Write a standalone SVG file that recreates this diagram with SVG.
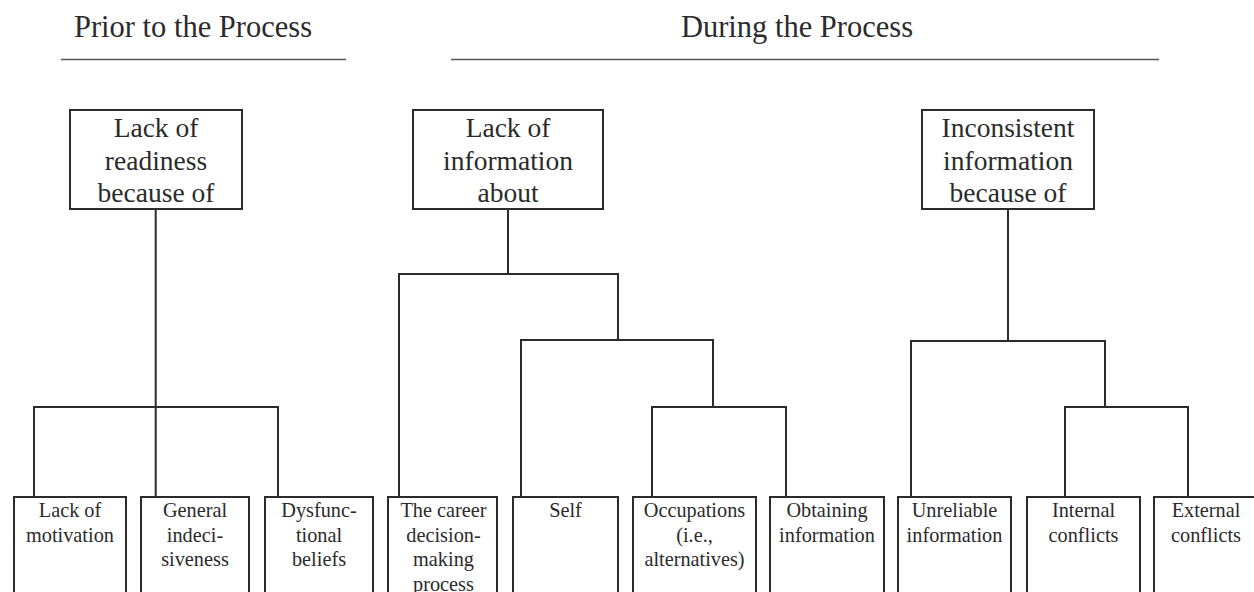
<svg xmlns="http://www.w3.org/2000/svg" width="1254" height="592" viewBox="0 0 1254 592">
  <style>
    .bg { fill: #ffffff; }
    .title { font-family: "Liberation Serif", "Times New Roman", serif; font-size: 30.5px; fill: #2b2b2b; text-anchor: middle; }
    .rule { stroke: #555555; stroke-width: 1.6; }
    .box { fill: #ffffff; stroke: #2b2b2b; stroke-width: 2; }
    .big { font-family: "Liberation Serif", "Times New Roman", serif; font-size: 27.5px; fill: #2b2b2b; text-anchor: middle; }
    .small { font-family: "Liberation Serif", "Times New Roman", serif; font-size: 20.3px; fill: #2b2b2b; text-anchor: middle; }
    .link { fill: none; stroke: #2b2b2b; stroke-width: 2; stroke-linejoin: miter; stroke-linecap: square; }
  </style>

  <rect class="bg" x="0" y="0" width="1254" height="592"/>

  <!-- Section headings -->
  <g id="heading-prior">
    <text class="title" x="193" y="37">Prior to the Process</text>
    <line class="rule" x1="61" y1="59.5" x2="346" y2="59.5"/>
  </g>
  <g id="heading-during">
    <text class="title" x="797" y="37">During the Process</text>
    <line class="rule" x1="451" y1="59.5" x2="1159" y2="59.5"/>
  </g>

  <!-- Connectors -->
  <g id="connectors">
    <!-- readiness tree -->
    <path class="link" d="M155.7 209 V497 M34 497 V407 H278 V497"/>
    <!-- lack of information tree -->
    <path class="link" d="M508 209 V274 M399 497 V274 H618 V340 M521 497 V340 H713 V407 M652 497 V407 H786 V497"/>
    <!-- inconsistent information tree -->
    <path class="link" d="M1008 209 V341 M911 497 V341 H1105 V407 M1065 497 V407 H1188 V497"/>
  </g>

  <!-- Top-level categories -->
  <g id="readiness">
    <rect class="box" x="70" y="110" width="172" height="99"/>
    <text class="big" x="156" y="137">Lack of</text>
    <text class="big" x="156" y="169.5">readiness</text>
    <text class="big" x="156" y="202">because of</text>
  </g>
  <g id="information">
    <rect class="box" x="413" y="110" width="190" height="99"/>
    <text class="big" x="508" y="137">Lack of</text>
    <text class="big" x="508" y="169.5">information</text>
    <text class="big" x="508" y="202">about</text>
  </g>
  <g id="inconsistent">
    <rect class="box" x="922" y="110" width="172" height="99"/>
    <text class="big" x="1008" y="137">Inconsistent</text>
    <text class="big" x="1008" y="169.5">information</text>
    <text class="big" x="1008" y="202">because of</text>
  </g>

  <!-- Sub-categories -->
  <g id="motivation">
    <rect class="box" x="14" y="497" width="112" height="110"/>
    <text class="small" x="70" y="517">Lack of</text>
    <text class="small" x="70" y="541.5">motivation</text>
  </g>
  <g id="indecisiveness">
    <rect class="box" x="141" y="497" width="108" height="110"/>
    <text class="small" x="195" y="517">General</text>
    <text class="small" x="195" y="541.5">indeci-</text>
    <text class="small" x="195" y="566">siveness</text>
  </g>
  <g id="beliefs">
    <rect class="box" x="265" y="497" width="108" height="110"/>
    <text class="small" x="319" y="517">Dysfunc-</text>
    <text class="small" x="319" y="541.5">tional</text>
    <text class="small" x="319" y="566">beliefs</text>
  </g>
  <g id="process">
    <rect class="box" x="388" y="497" width="109" height="110"/>
    <text class="small" x="443.5" y="517">The career</text>
    <text class="small" x="443.5" y="541.5">decision-</text>
    <text class="small" x="443.5" y="566">making</text>
    <text class="small" x="443.5" y="590.5">process</text>
  </g>
  <g id="self">
    <rect class="box" x="513" y="497" width="105" height="110"/>
    <text class="small" x="565.5" y="517">Self</text>
  </g>
  <g id="occupations">
    <rect class="box" x="633" y="497" width="123" height="110"/>
    <text class="small" x="694.5" y="517">Occupations</text>
    <text class="small" x="694.5" y="541.5">(i.e.,</text>
    <text class="small" x="694.5" y="566">alternatives)</text>
  </g>
  <g id="obtaining">
    <rect class="box" x="770" y="497" width="114" height="110"/>
    <text class="small" x="827" y="517">Obtaining</text>
    <text class="small" x="827" y="541.5">information</text>
  </g>
  <g id="unreliable">
    <rect class="box" x="898" y="497" width="113" height="110"/>
    <text class="small" x="954.5" y="517">Unreliable</text>
    <text class="small" x="954.5" y="541.5">information</text>
  </g>
  <g id="internal">
    <rect class="box" x="1027" y="497" width="113" height="110"/>
    <text class="small" x="1083.5" y="517">Internal</text>
    <text class="small" x="1083.5" y="541.5">conflicts</text>
  </g>
  <g id="external">
    <rect class="box" x="1154" y="497" width="104" height="110"/>
    <text class="small" x="1206" y="517">External</text>
    <text class="small" x="1206" y="541.5">conflicts</text>
  </g>
</svg>
